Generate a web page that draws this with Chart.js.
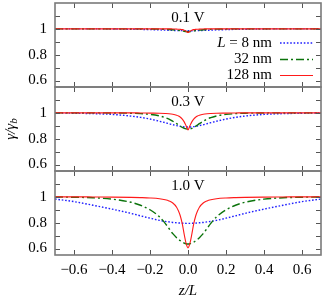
<!DOCTYPE html>
<html>
<head>
<meta charset="utf-8">
<script src="https://cdn.jsdelivr.net/npm/chart.js"></script>
<style>
  html, body { margin: 0; padding: 0; background: #fff; }
</style>
</head>
<body>
<canvas id="grafico" width="325" height="300"></canvas>
<script>
// z/L positions shared by all curves
const zL = [-0.7, -0.6, -0.5, -0.4, -0.3, -0.25, -0.2, -0.15, -0.12, -0.1, -0.08, -0.06, -0.05, -0.04, -0.03, -0.02, -0.01,
  0, 0.01, 0.02, 0.03, 0.04, 0.05, 0.06, 0.08, 0.1, 0.12, 0.15, 0.2, 0.25, 0.3, 0.4, 0.5, 0.6, 0.7];

// 0.1 V
const v01_L8 = [1, 1, 1, 0.999, 0.997, 0.996, 0.994, 0.992, 0.99, 0.989, 0.988, 0.987, 0.986, 0.986, 0.986, 0.985, 0.985,
  0.985, 0.985, 0.985, 0.986, 0.986, 0.986, 0.987, 0.988, 0.989, 0.99, 0.992, 0.994, 0.996, 0.997, 0.999, 1, 1, 1];
const v01_L32 = [1, 1, 1, 1, 1, 1, 0.999, 0.998, 0.996, 0.995, 0.993, 0.99, 0.988, 0.986, 0.984, 0.981, 0.979,
  0.978, 0.979, 0.981, 0.984, 0.986, 0.988, 0.99, 0.993, 0.995, 0.996, 0.998, 0.999, 1, 1, 1, 1, 1, 1];
const v01_L128 = [1, 1, 1, 1, 1, 1, 1, 1, 1, 1, 0.999, 0.998, 0.997, 0.996, 0.994, 0.99, 0.982,
  0.972, 0.982, 0.99, 0.994, 0.996, 0.997, 0.998, 0.999, 1, 1, 1, 1, 1, 1, 1, 1, 1, 1];

// 0.3 V
const v03_L8 = [0.999, 0.997, 0.994, 0.988, 0.975, 0.965, 0.952, 0.935, 0.924, 0.916, 0.908, 0.901, 0.898, 0.895, 0.893, 0.891, 0.89,
  0.89, 0.89, 0.891, 0.893, 0.895, 0.898, 0.901, 0.908, 0.916, 0.924, 0.935, 0.952, 0.965, 0.975, 0.988, 0.994, 0.997, 0.999];
const v03_L32 = [1, 1, 1, 0.999, 0.997, 0.994, 0.988, 0.976, 0.963, 0.952, 0.935, 0.916, 0.906, 0.896, 0.887, 0.88, 0.876,
  0.875, 0.876, 0.88, 0.887, 0.896, 0.906, 0.916, 0.935, 0.952, 0.963, 0.976, 0.988, 0.994, 0.997, 0.999, 1, 1, 1];
const v03_L128 = [1, 1, 1, 1, 1, 0.999, 0.998, 0.997, 0.995, 0.993, 0.989, 0.982, 0.976, 0.966, 0.952, 0.93, 0.9,
  0.868, 0.9, 0.93, 0.952, 0.966, 0.976, 0.982, 0.989, 0.993, 0.995, 0.997, 0.998, 0.999, 1, 1, 1, 1, 1];

// 1.0 V
const v10_L8 = [0.983, 0.963, 0.935, 0.905, 0.872, 0.853, 0.835, 0.818, 0.81, 0.806, 0.802, 0.799, 0.798, 0.797, 0.796, 0.796, 0.795,
  0.795, 0.795, 0.796, 0.796, 0.797, 0.798, 0.799, 0.802, 0.806, 0.81, 0.818, 0.835, 0.853, 0.872, 0.905, 0.935, 0.963, 0.983];
const v10_L32 = [0.999, 0.997, 0.993, 0.982, 0.958, 0.935, 0.9, 0.845, 0.795, 0.755, 0.715, 0.684, 0.671, 0.66, 0.65, 0.642, 0.637,
  0.635, 0.637, 0.642, 0.65, 0.66, 0.671, 0.684, 0.715, 0.755, 0.795, 0.845, 0.9, 0.935, 0.958, 0.982, 0.993, 0.997, 0.999];
const v10_L128 = [1, 1, 0.999, 0.998, 0.996, 0.994, 0.991, 0.985, 0.977, 0.968, 0.952, 0.92, 0.89, 0.85, 0.79, 0.71, 0.64,
  0.605, 0.64, 0.71, 0.79, 0.85, 0.89, 0.92, 0.952, 0.968, 0.977, 0.985, 0.991, 0.994, 0.996, 0.998, 0.999, 1, 1];

const panelLabels = ["0.1 V", "0.3 V", "1.0 V"];
const panelAxes = ["y1", "y2", "y3"];
const legendLabels = ["= 8 nm", "32 nm", "128 nm"];
const xTickVals = [-0.6, -0.4, -0.2, 0, 0.2, 0.4, 0.6];
const yTickVals = [0.6, 0.7, 0.8, 0.9, 1.0, 1.1];
const yLabelVals = [0.6, 0.8, 1.0];

const SERIF = '"Liberation Serif", "DejaVu Serif", serif';
Chart.defaults.font.family = SERIF;
Chart.defaults.font.size = 15;
Chart.defaults.color = "#000";

const estilos = [
  { color: "#1f1fff", dash: [1.6, 1.8], width: 1.4 },
  { color: "#0b730b", dash: [8, 3, 2, 3], width: 1.4 },
  { color: "#ff1a1a", dash: [], width: 1.1 }
];

const series = [
  [v01_L8, v01_L32, v01_L128],
  [v03_L8, v03_L32, v03_L128],
  [v10_L8, v10_L32, v10_L128]
];

const datasets = [];
series.forEach((grupo, p) => {
  grupo.forEach((vals, k) => {
    datasets.push({
      label: legendLabels[k],
      data: zL.map((z, i) => ({ x: z, y: vals[i] })),
      yAxisID: panelAxes[p],
      borderColor: estilos[k].color,
      borderDash: estilos[k].dash,
      borderWidth: estilos[k].width,
      pointRadius: 0,
      fill: false,
      cubicInterpolationMode: "monotone",
      order: 2 - k
    });
  });
});

function fmt(v) {
  const s = Math.abs(v).toFixed(1);
  return v < 0 ? "\u2212" + s : s;
}

function noPad(s) {
  s.paddingTop = 0; s.paddingBottom = 0; s.paddingLeft = 0; s.paddingRight = 0;
}

function yAxis() {
  return {
    type: "linear",
    min: 0.55,
    max: 1.2,
    position: "left",
    stack: "panels",
    stackWeight: 1,
    afterBuildTicks: s => { s.ticks = yTickVals.map(v => ({ value: v })); },
    afterFit: s => { s.width = 55; noPad(s); },
    grid: { display: false, drawTicks: false },
    border: { display: false },
    ticks: {
      padding: 8,
      callback: v => yLabelVals.includes(v) ? (v === 1 ? "1" : v.toFixed(1)) : ""
    }
  };
}

// moldura, marcas internas, rótulos e legenda
const molduraPlugin = {
  id: "moldura",
  afterDatasetsDraw(chart) {
    const ctx = chart.ctx;
    const area = chart.chartArea;
    const xs = chart.scales.x;
    ctx.save();
    panelAxes.forEach((id, p) => {
      const s = chart.scales[id];
      ctx.strokeStyle = "#555";
      ctx.lineWidth = 1;
      ctx.setLineDash([]);
      ctx.beginPath();
      yTickVals.forEach(v => {
        const py = Math.round(s.getPixelForValue(v)) + 0.5;
        ctx.moveTo(area.left, py); ctx.lineTo(area.left + 5, py);
        ctx.moveTo(area.right, py); ctx.lineTo(area.right - 5, py);
      });
      xTickVals.forEach(v => {
        const px = Math.round(xs.getPixelForValue(v)) + 0.5;
        ctx.moveTo(px, s.top); ctx.lineTo(px, s.top + 5);
        ctx.moveTo(px, s.bottom); ctx.lineTo(px, s.bottom - 5);
      });
      ctx.stroke();

      ctx.strokeStyle = "#7a7a7a";
      ctx.lineWidth = 1.6;
      ctx.strokeRect(area.left, s.top, area.right - area.left, s.bottom - s.top);

      ctx.fillStyle = "#000";
      ctx.font = "15px " + SERIF;
      ctx.textAlign = "center";
      ctx.textBaseline = "middle";
      ctx.fillText(panelLabels[p], (area.left + area.right) / 2, s.top + 15);
    });

    // legenda no painel de cima
    const top = chart.scales.y1.top;
    const rows = [top + 40, top + 56.5, top + 72.5];
    const textRight = area.right - 49;
    rows.forEach((y, k) => {
      ctx.font = "15px " + SERIF;
      ctx.textAlign = "right";
      ctx.textBaseline = "middle";
      ctx.fillStyle = "#000";
      ctx.fillText(legendLabels[k], textRight, y);
      if (k === 0) {
        const w = ctx.measureText(" " + legendLabels[k]).width;
        ctx.font = "italic 15px " + SERIF;
        ctx.fillText("L", textRight - w, y);
      }
      ctx.strokeStyle = estilos[k].color;
      ctx.lineWidth = estilos[k].width;
      ctx.setLineDash(estilos[k].dash);
      ctx.beginPath();
      ctx.moveTo(area.right - 41, y);
      ctx.lineTo(area.right - 8, y);
      ctx.stroke();
    });
    ctx.setLineDash([]);

    // títulos dos eixos
    ctx.fillStyle = "#000";
    ctx.font = "italic 15px " + SERIF;
    ctx.textAlign = "center";
    ctx.textBaseline = "middle";
    ctx.fillText("z/L", (area.left + area.right) / 2, 291);

    ctx.translate(11, chart.scales.y2.top + (chart.scales.y2.bottom - chart.scales.y2.top) / 2);
    ctx.rotate(-Math.PI / 2);
    ctx.textAlign = "left";
    const main = "\u03b3/\u03b3";
    const wm = ctx.measureText(main).width;
    ctx.font = "italic 11px " + SERIF;
    const wb = ctx.measureText("b").width;
    ctx.font = "italic 15px " + SERIF;
    const x0 = -(wm + wb) / 2;
    ctx.fillText(main, x0, 0);
    ctx.font = "italic 11px " + SERIF;
    ctx.fillText("b", x0 + wm, 3);
    ctx.restore();
  }
};

new Chart(document.getElementById("grafico"), {
  type: "line",
  data: { datasets },
  options: {
    responsive: false,
    animation: false,
    devicePixelRatio: 1,
    layout: { padding: { top: 3, right: 4, left: 0, bottom: 0 } },
    plugins: { legend: { display: false }, tooltip: { enabled: false } },
    scales: {
      x: {
        type: "linear",
        min: -0.7,
        max: 0.7,
        afterBuildTicks: s => { s.ticks = xTickVals.map(v => ({ value: v })); },
        afterFit: s => { s.height = 45; noPad(s); },
        grid: { display: false, drawTicks: false },
        border: { display: false },
        ticks: { padding: 6, maxRotation: 0, callback: v => fmt(v) }
      },
      y3: yAxis(),
      y2: yAxis(),
      y1: yAxis()
    }
  },
  plugins: [molduraPlugin]
});
</script>
</body>
</html>
